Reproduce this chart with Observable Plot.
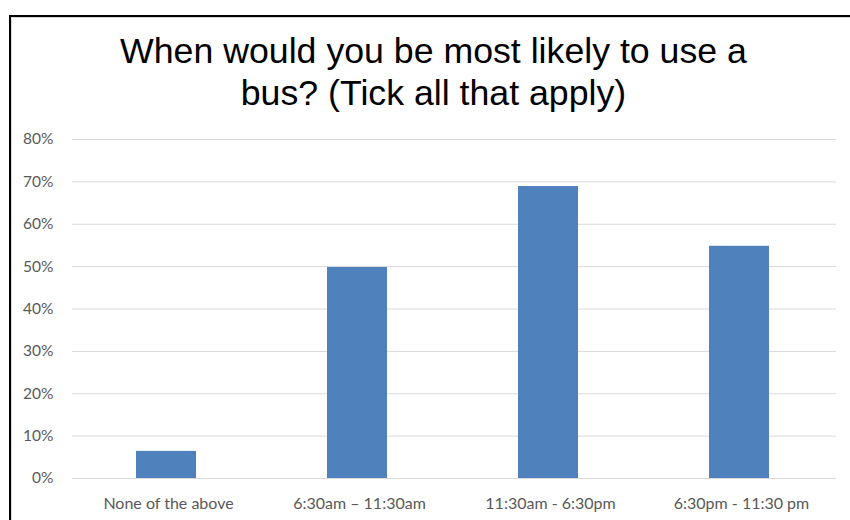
<!DOCTYPE html>
<html>
<head>
<meta charset="utf-8">
<script src="https://cdn.jsdelivr.net/npm/d3@7"></script>
<script src="https://cdn.jsdelivr.net/npm/@observablehq/plot@0.6"></script>
<style>
  html, body { margin: 0; padding: 0; width: 850px; height: 520px; overflow: hidden; background: #fff; }
  #frame { position: absolute; left: 9px; top: 15px; width: 900px; height: 600px;
           border: 2px solid #000; box-sizing: border-box; }
  #inner { position: absolute; left: 0; top: 0; right: 0; bottom: 0; border: 1px solid #d9d9d9; }
  #title { position: absolute; left: 0; top: 30px; width: 867px; text-align: center;
           font-family: "Liberation Sans", Arial, sans-serif; font-size: 35.7px; line-height: 42px; color: #000; }
  #chart { position: absolute; left: 0; top: 120px; }
</style>
</head>
<body>
<div id="frame"><div id="inner"></div></div>
<div id="title">When would you be most likely to use a<br>bus? (Tick all that apply)</div>
<div id="chart"></div>
<script>
// Survey answers: time windows and share of respondents ticking each
const categories = ["None of the above", "6:30am \u2013 11:30am", "11:30am - 6:30pm", "6:30pm - 11:30 pm"];
const shares = [0.064, 0.498, 0.689, 0.548];
const yTicks = [0, 0.1, 0.2, 0.3, 0.4, 0.5, 0.6, 0.7, 0.8];

const rows = categories.map((c, i) => ({category: c, share: shares[i]}));

const chart = Plot.plot({
  width: 850,
  height: 400,
  marginTop: 19,
  marginBottom: 42,
  marginLeft: 72,
  marginRight: 14,
  style: {fontFamily: "Lato, sans-serif", fontSize: "16px", color: "#595959", background: "transparent"},
  x: {domain: categories, paddingInner: 0.686, paddingOuter: 0.343, label: null},
  y: {domain: [0, 0.8], label: null},
  marks: [
    Plot.gridY(yTicks, {stroke: "#d9d9d9", strokeOpacity: 1, strokeWidth: 1}),
    Plot.barY(rows, {x: "category", y: "share", fill: "#4f81bd", dx: -2}),
    Plot.axisY(yTicks, {tickSize: 0, tickPadding: 19, tickFormat: d3.format(".0%"), fontSize: 15.5, fill: "#595959"}),
    Plot.axisX({tickSize: 0, tickPadding: 19, fontSize: 16, fill: "#595959"})
  ]
});
document.getElementById("chart").appendChild(chart);
</script>
</body>
</html>
